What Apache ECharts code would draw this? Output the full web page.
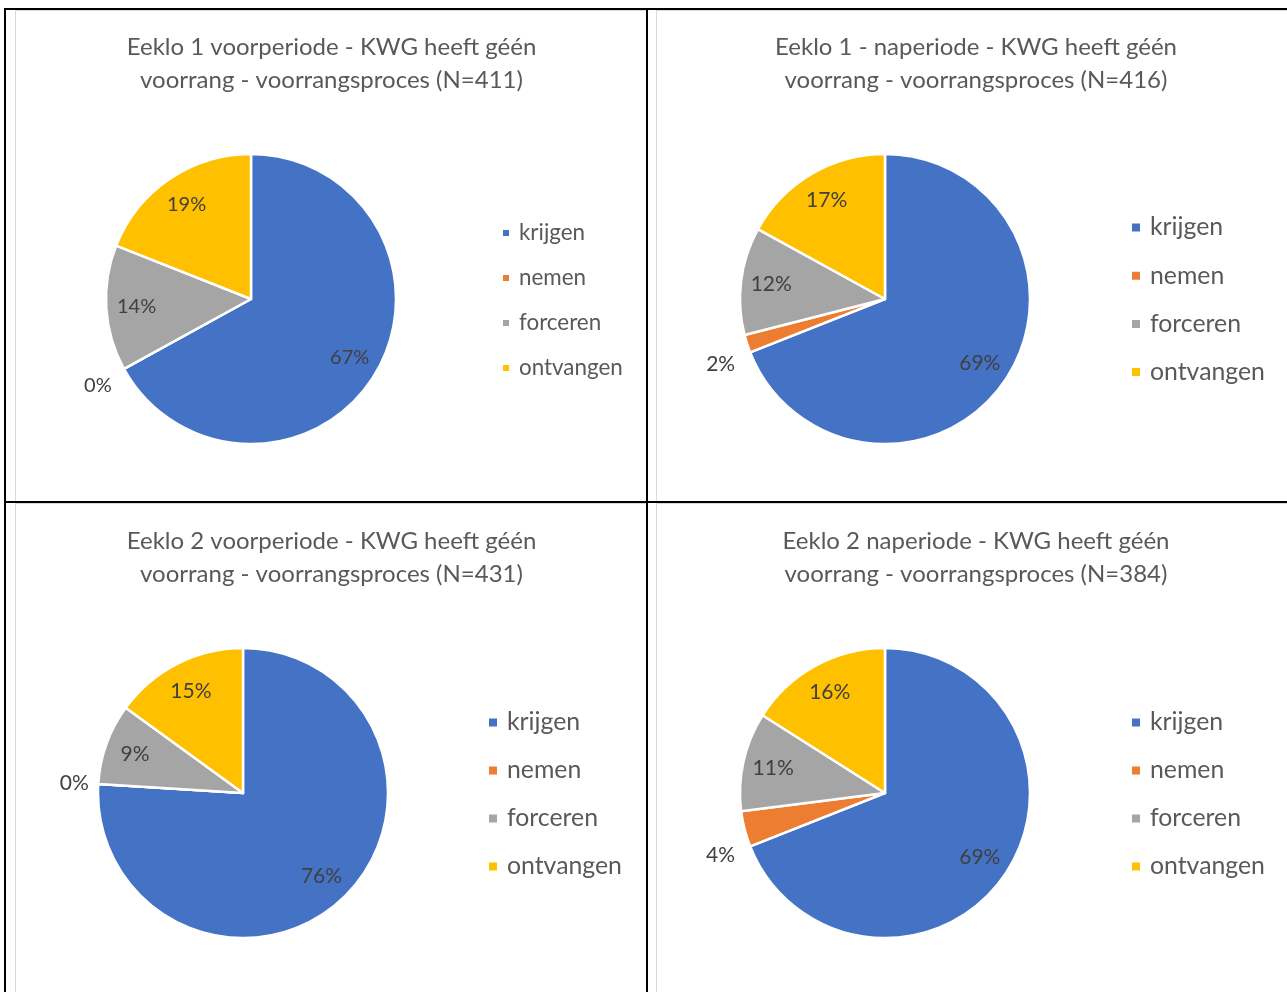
<!DOCTYPE html>
<html>
<head>
<meta charset="utf-8">
<script src="https://cdn.jsdelivr.net/npm/echarts@6/dist/echarts.min.js"></script>
<style>
  html, body { margin: 0; padding: 0; background: #fff; width: 1287px; height: 992px; overflow: hidden; position: relative; }
  .cell { position: absolute; box-sizing: border-box; border: 1px solid #d9d9d9; background: #fff; }
  .rule { position: absolute; background: #000; }
</style>
</head>
<body>
<div class="cell" id="c1" style="left:15px; top:10px; width:633px; height:493px;"></div>
<div class="cell" id="c2" style="left:656px; top:10px; width:640px; height:493px;"></div>
<div class="cell" id="c3" style="left:15px; top:503px; width:633px; height:500px;"></div>
<div class="cell" id="c4" style="left:656px; top:503px; width:640px; height:500px;"></div>
<!-- table rules -->
<div class="rule" style="left:4px; top:8px; width:1283px; height:2px;"></div>
<div class="rule" style="left:4px; top:8px; width:2px; height:984px;"></div>
<div class="rule" style="left:646px; top:8px; width:2px; height:984px;"></div>
<div class="rule" style="left:4px; top:501px; width:1283px; height:2px;"></div>
<script>
// Categories and percentage shares per survey period
const categories = ['krijgen', 'nemen', 'forceren', 'ontvangen'];
const colors = ['#4472C4', '#ED7D31', '#A5A5A5', '#FFC000'];

const eeklo1Voor = [67, 0, 14, 19];
const eeklo1Na = [69, 2, 12, 17];
const eeklo2Voor = [76, 0, 9, 15];
const eeklo2Na = [69, 4, 11, 16];

const titles = [
  'Eeklo 1 voorperiode - KWG heeft géén\nvoorrang - voorrangsproces (N=411)',
  'Eeklo 1 - naperiode - KWG heeft géén\nvoorrang - voorrangsproces (N=416)',
  'Eeklo 2 voorperiode - KWG heeft géén\nvoorrang - voorrangsproces (N=431)',
  'Eeklo 2 naperiode - KWG heeft géén\nvoorrang - voorrangsproces (N=384)'
];

const FONT = 'Lato';
const TEXT = '#595959';
const R = 145;

function buildOption(values, title, layout) {
  const data = values.map((v, i) => ({
    name: categories[i], value: v, itemStyle: { color: colors[i] }
  }));
  const labelFmt = p => p.value + '%';
  // large shares are labelled inside the slice, small ones just outside it
  const innerLabels = values.map((v, i) => ({
    name: categories[i], value: v, label: { show: v >= 5 }
  }));
  const outerLabels = values.map((v, i) => ({
    name: categories[i], value: v, label: { show: v < 5, offset: layout.outerOffset }
  }));
  const labelStyle = {
    position: 'inside', formatter: labelFmt, color: '#404040',
    fontFamily: FONT, fontSize: layout.labelSize
  };
  const center = layout.center;
  return {
    animation: false,
    title: {
      text: title, left: 'center', top: layout.titleTop, padding: 0,
      textStyle: { fontFamily: FONT, fontSize: layout.titleSize, fontWeight: 'normal', color: TEXT, lineHeight: 33 }
    },
    legend: {
      orient: 'vertical', left: layout.legendLeft, top: layout.legendTop,
      data: categories, icon: 'rect', itemWidth: layout.marker, itemHeight: layout.marker,
      itemGap: layout.legendGap, padding: 0, selectedMode: false,
      textStyle: { fontFamily: FONT, fontSize: layout.legendSize, color: TEXT, lineHeight: 24, padding: [0, 0, 0, 4] }
    },
    series: [
      {
        type: 'pie', radius: R, center: center, startAngle: 90, clockwise: true,
        label: { show: false }, labelLine: { show: false }, emphasis: { disabled: true },
        itemStyle: { borderColor: '#fff', borderWidth: 2.5 },
        data: data
      },
      {
        type: 'pie', radius: [R * 0.54, R], center: center, startAngle: 90, clockwise: true,
        silent: true, avoidLabelOverlap: false, emphasis: { disabled: true },
        itemStyle: { color: 'transparent', borderWidth: 0 },
        label: labelStyle, labelLine: { show: false },
        data: innerLabels
      },
      {
        type: 'pie', radius: [R, R * 1.4], center: center, startAngle: 90, clockwise: true,
        silent: true, avoidLabelOverlap: false, emphasis: { disabled: true },
        itemStyle: { color: 'transparent', borderWidth: 0 },
        label: labelStyle, labelLine: { show: false },
        data: outerLabels
      }
    ]
  };
}

const cells = [
  { id: 'c1', values: eeklo1Voor, title: titles[0],
    layout: { center: [235, 288], titleTop: 20, titleSize: 24, legendLeft: 485, legendTop: 210, legendGap: 21, legendSize: 22.4, marker: 8, labelSize: 20, outerOffset: [2, 1] } },
  { id: 'c2', values: eeklo1Na, title: titles[1],
    layout: { center: [228, 288], titleTop: 20, titleSize: 24, legendLeft: 473, legendTop: 204, legendGap: 23.2, legendSize: 24.8, marker: 10, labelSize: 21, outerOffset: [4, 11] } },
  { id: 'c3', values: eeklo2Voor, title: titles[2],
    layout: { center: [227, 289], titleTop: 21, titleSize: 24, legendLeft: 471, legendTop: 206, legendGap: 23, legendSize: 24.8, marker: 10, labelSize: 21, outerOffset: [8, 1] } },
  { id: 'c4', values: eeklo2Na, title: titles[3],
    layout: { center: [228, 289], titleTop: 21, titleSize: 24, legendLeft: 473, legendTop: 206, legendGap: 23, legendSize: 24.8, marker: 10, labelSize: 21, outerOffset: [7, 18] } }
];

cells.forEach(c => {
  const chart = echarts.init(document.getElementById(c.id), null, { renderer: 'canvas' });
  chart.setOption(buildOption(c.values, c.title, c.layout));
});
</script>
</body>
</html>
